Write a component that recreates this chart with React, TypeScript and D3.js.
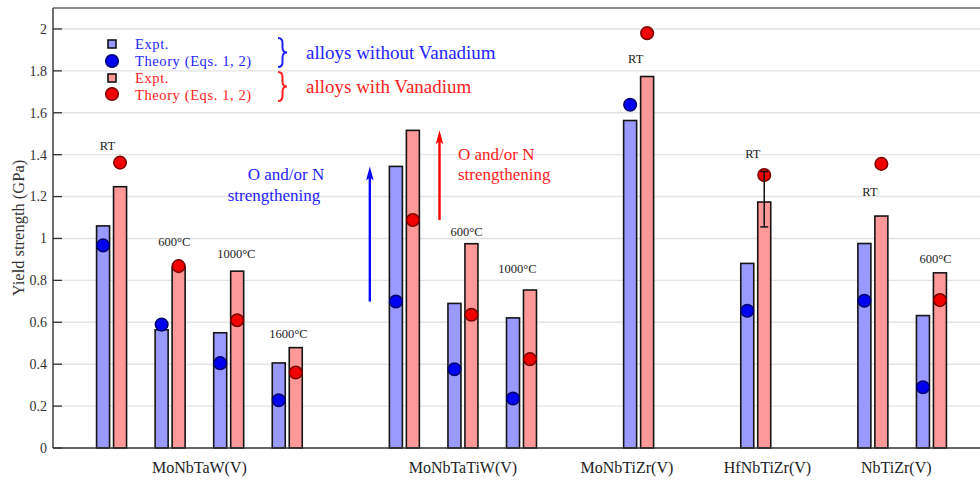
import * as d3 from "d3";

// slot index of each bar pair on the x axis
const slots = [0, 1, 2, 3, 5, 6, 7, 9, 11, 13, 14];
const exptNoV = [1.06, 0.564, 0.55, 0.406, 1.344, 0.69, 0.621, 1.563, 0.881, 0.976, 0.632];
const exptV = [1.247, 0.864, 0.844, 0.479, 1.516, 0.975, 0.754, 1.773, 1.174, 1.107, 0.836];
const theoryNoV = [0.967, 0.589, 0.405, 0.228, 0.699, 0.376, 0.236, 1.638, 0.655, 0.703, 0.29];
const theoryV = [1.362, 0.868, 0.61, 0.36, 1.088, 0.636, 0.424, 1.98, 1.303, 1.356, 0.706];

const conditions = ["RT", "600°C", "1000°C", "1600°C", "", "600°C", "1000°C", "RT", "RT", "RT", "600°C"];
const condX = [-0.07, 1.07, 2.13, 3.02, 0, 6.06, 6.93, 8.95, 10.95, 12.95, 14.07];
const condY = [1.443, 0.984, 0.927, 0.545, 0, 1.034, 0.855, 1.859, 1.406, 1.225, 0.905];

const alloys = ["MoNbTaW(V)", "MoNbTaTiW(V)", "MoNbTiZr(V)", "HfNbTiZr(V)", "NbTiZr(V)"];
const alloyX = [1.5, 6.0, 8.8, 11.2, 13.4];

// error bar on HfNbTiZrV expt
const errIndex = 8;
const errLow = 1.055;
const errHigh = 1.32;

const yTicks = [0, 0.2, 0.4, 0.6, 0.8, 1, 1.2, 1.4, 1.6, 1.8, 2];

const W = 980, H = 480;
const left = 53, top = 8, bottom = 448;

const BLUE_BAR = "#9999ff";
const RED_BAR = "#ff9999";
const BLUE_TXT = "#2323ff";
const RED_TXT = "#ff2020";
const FONT = "Liberation Serif";

function brace(x: number, y0: number, y1: number, w: number) {
  const ym = (y0 + y1) / 2;
  const q = 5;
  const xm = x + w / 2;
  return `M${x},${y0} Q${xm},${y0} ${xm},${y0 + q} L${xm},${ym - q} Q${xm},${ym} ${x + w},${ym} Q${xm},${ym} ${xm},${ym + q} L${xm},${y1 - q} Q${xm},${y1} ${x},${y1}`;
}

function T(props: any) {
  return <text fontFamily={FONT} dy="0.35em" {...props} />;
}

export default function App() {
  const x = d3.scaleLinear().domain([-1, 15]).range([left, 990]);
  const y = d3.scaleLinear().domain([0, 2.1]).range([bottom, top]);
  const bw = x(0.222) - x(0);

  const arrows = [
    { xs: 4.41, from: theoryNoV[4], to: exptNoV[4], color: "#0a0aff" },
    { xs: 5.6, from: theoryV[4], to: exptV[4], color: "#ff0000" },
  ];
  const ex = x(slots[errIndex] + 0.145);

  return (
    <svg width={W} height={H} style={{ position: "absolute", left: 0, top: 0, background: "#fff" }}>
      {/* grid */}
      {yTicks.filter((t) => t > 0).map((t) => (
        <line key={"g" + t} x1={left} x2={W} y1={y(t)} y2={y(t)} stroke="#e3e3e3" strokeWidth={1.4} />
      ))}
      <line x1={left} x2={W} y1={top} y2={top} stroke="#8a8a8a" strokeWidth={2} />

      {/* bars */}
      {slots.map((s, i) => (
        <g key={"b" + i} stroke="#151515" strokeWidth={1.6}>
          <rect x={x(s - 0.256)} y={y(exptNoV[i])} width={bw} height={y(0) - y(exptNoV[i])} fill={BLUE_BAR} />
          <rect x={x(s + 0.034)} y={y(exptV[i])} width={bw} height={y(0) - y(exptV[i])} fill={RED_BAR} />
        </g>
      ))}

      {/* theory dots */}
      {slots.map((s, i) => (
        <g key={"d" + i} strokeWidth={1.5}>
          <circle cx={x(s - 0.145)} cy={y(theoryNoV[i])} r={6.3} fill="#0000f0" stroke="#00006e" />
          <circle cx={x(s + 0.145)} cy={y(theoryV[i])} r={6.3} fill="#f00000" stroke="#7a0000" />
        </g>
      ))}

      {/* error bar */}
      <g stroke="#111" strokeWidth={1.5}>
        <line x1={ex} x2={ex} y1={y(errLow)} y2={y(errHigh)} />
        <line x1={ex - 4} x2={ex + 4} y1={y(errLow)} y2={y(errLow)} />
        <line x1={ex - 4} x2={ex + 4} y1={y(errHigh)} y2={y(errHigh)} />
      </g>

      {/* axes */}
      <line x1={left} x2={left} y1={top} y2={bottom} stroke="#333" strokeWidth={1.4} />
      <line x1={left} x2={W} y1={bottom} y2={bottom} stroke="#333" strokeWidth={1.6} />
      {yTicks.map((t) => (
        <g key={"t" + t}>
          <line x1={left} x2={left + 9} y1={y(t)} y2={y(t)} stroke="#333" strokeWidth={1.3} />
          <T x={left - 6} y={y(t)} textAnchor="end" fontSize={14} fill="#333">
            {String(t)}
          </T>
        </g>
      ))}
      <T transform={`translate(18,${(top + bottom) / 2}) rotate(-90)`} textAnchor="middle" fontSize={16.5} fill="#333">
        Yield strength (GPa)
      </T>

      {/* alloy labels */}
      {alloys.map((a, i) => (
        <T key={a} x={x(alloyX[i])} y={467} textAnchor="middle" fontSize={16} fill="#222">
          {a}
        </T>
      ))}

      {/* condition labels */}
      {conditions.map((c, i) =>
        c ? (
          <T key={"c" + i} x={x(condX[i])} y={y(condY[i])} textAnchor="middle" fontSize={12.5} fill="#222">
            {c}
          </T>
        ) : null
      )}

      {/* strengthening arrows */}
      {arrows.map((a, i) => {
        const ax = x(a.xs);
        const tip = y(a.to);
        return (
          <g key={"a" + i}>
            <line x1={ax} x2={ax} y1={y(a.from)} y2={tip + 8} stroke={a.color} strokeWidth={2.4} />
            <path d={`M${ax},${tip} L${ax - 3.8},${tip + 14} L${ax},${tip + 11} L${ax + 3.8},${tip + 14} Z`} fill={a.color} />
          </g>
        );
      })}
      <T x={286} y={174} textAnchor="middle" fontSize={17} fill={BLUE_TXT}>O and/or N</T>
      <T x={274} y={195} textAnchor="middle" fontSize={17} fill={BLUE_TXT}>strengthening</T>
      <T x={458} y={154} fontSize={17} fill={RED_TXT}>O and/or N</T>
      <T x={458} y={174} fontSize={17} fill={RED_TXT}>strengthening</T>

      {/* legend */}
      <rect x={108} y={40} width={8} height={8} fill={BLUE_BAR} stroke="#111" strokeWidth={1.6} />
      <circle cx={112} cy={61} r={6.3} fill="#0000f0" stroke="#00006e" strokeWidth={1.5} />
      <rect x={108} y={74} width={8} height={8} fill={RED_BAR} stroke="#111" strokeWidth={1.6} />
      <circle cx={112} cy={94} r={6.3} fill="#f00000" stroke="#7a0000" strokeWidth={1.5} />
      <T x={135} y={44} fontSize={14.5} letterSpacing={0.6} fill={BLUE_TXT}>Expt.</T>
      <T x={135} y={61} fontSize={14.5} letterSpacing={0.6} fill={BLUE_TXT}>Theory (Eqs. 1, 2)</T>
      <T x={135} y={78} fontSize={14.5} letterSpacing={0.6} fill={RED_TXT}>Expt.</T>
      <T x={135} y={95} fontSize={14.5} letterSpacing={0.6} fill={RED_TXT}>Theory (Eqs. 1, 2)</T>
      <path d={brace(278, 38, 67, 9)} fill="none" stroke={BLUE_TXT} strokeWidth={2} />
      <path d={brace(278, 72, 101, 9)} fill="none" stroke={RED_TXT} strokeWidth={2} />
      <T x={306} y={52} fontSize={19} fill={BLUE_TXT}>alloys without Vanadium</T>
      <T x={306} y={86} fontSize={19} fill={RED_TXT}>alloys with Vanadium</T>
    </svg>
  );
}
